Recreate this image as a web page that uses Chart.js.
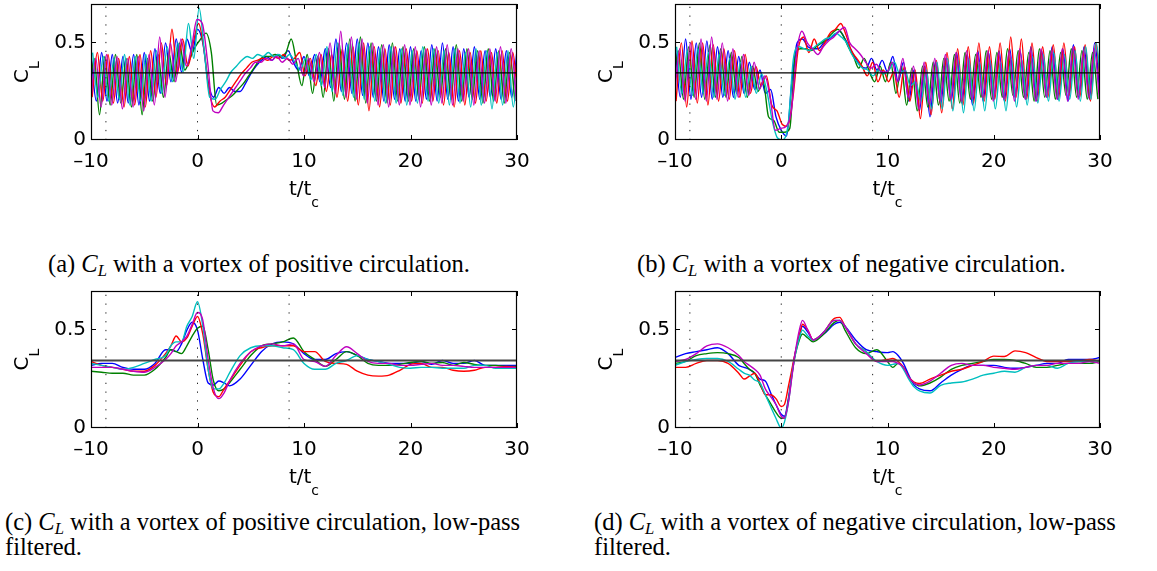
<!DOCTYPE html>
<html>
<head>
<meta charset="utf-8">
<script src="https://cdn.jsdelivr.net/npm/chart.js@4.4.1/dist/chart.umd.min.js"></script>
<style>
  body { margin: 0; background: #fff; }
  #fig { position: relative; width: 1157px; height: 571px; overflow: hidden; }
  canvas { position: absolute; }
  .cap { position: absolute; font-family: "Liberation Serif", serif; font-size: 19px; line-height: 25px; color: #000; white-space: nowrap; }
  .cap sub { font-size: 0.68em; vertical-align: -0.22em; line-height: 0; }
</style>
</head>
<body>
<div id="fig">
  <canvas id="pa" width="540" height="215" style="left:0px;top:0px"></canvas>
  <canvas id="pb" width="540" height="215" style="left:584px;top:0px"></canvas>
  <canvas id="pc" width="540" height="216" style="left:0px;top:287px"></canvas>
  <canvas id="pd" width="540" height="216" style="left:584px;top:287px"></canvas>
  <div class="cap" id="capA" style="left:48px;top:251px">(a) <i>C<sub>L</sub></i> with a vortex of positive circulation.</div>
  <div class="cap" style="left:637px;top:251px">(b) <i>C<sub>L</sub></i> with a vortex of negative circulation.</div>
  <div class="cap" style="left:5px;top:509px">(c) <i>C<sub>L</sub></i> with a vortex of positive circulation, low-pass<br>filtered.</div>
  <div class="cap" style="left:594px;top:509px">(d) <i>C<sub>L</sub></i> with a vortex of negative circulation, low-pass<br>filtered.</div>
</div>
<script>
// axes
const xMin = -10, xMax = 30, yMin = 0, yMax = 0.7;
const xTicks = [-10, 0, 10, 20, 30];
const yTicks = [0, 0.5];
const meanCL = 0.345;            // horizontal reference line
const markers = [-8.6, 0, 8.6];  // dotted vertical lines

// order of runs: blue, green, red, cyan, magenta
const colors = ['#0000ff', '#008000', '#ff0000', '#00bfbf', '#bf00bf'];
// time shift of each run's samples (raw signals only)
const lag = [0, -0.2, 0.1, 0.15, -0.05];
const noLag = [0, 0, 0, 0, 0];

// raw signals, sampled every half t/t_c
const tN = [-10,-9.5,-9,-8.5,-8,-7.5,-7,-6.5,-6,-5.5,
            -5,-4.5,-4,-3.5,-3,-2.5,-2,-1.5,-1,-0.5,
            0,0.5,1,1.5,2,2.5,3,3.5,4,4.5,
            5,5.5,6,6.5,7,7.5,8,8.5,9,9.5,
            10,10.5,11,11.5,12,12.5,13,13.5,14,14.5,
            15,15.5,16,16.5,17,17.5,18,18.5,19,19.5,
            20,20.5,21,21.5,22,22.5,23,23.5,24,24.5,
            25,25.5,26,26.5,27,27.5,28,28.5,29,29.5,
            30];

// (a) positive circulation
const aBlue = [0.44,0.20,0.45,0.20,0.44,0.19,0.43,0.19,0.44,0.18,
               0.45,0.20,0.47,0.24,0.50,0.30,0.52,0.35,0.52,0.45,
               0.57,0.50,0.30,0.22,0.27,0.24,0.27,0.25,0.25,0.29,
               0.34,0.38,0.41,0.43,0.41,0.44,0.42,0.46,0.40,0.36,
               0.43,0.33,0.44,0.30,0.47,0.27,0.52,0.25,0.50,0.24,
               0.52,0.23,0.50,0.22,0.48,0.20,0.49,0.21,0.47,0.20,
               0.48,0.20,0.46,0.21,0.49,0.20,0.50,0.21,0.48,0.20,
               0.47,0.22,0.48,0.21,0.46,0.22,0.47,0.21,0.46,0.22,
               0.46];
const aGreen = [0.20,0.42,0.13,0.43,0.18,0.44,0.19,0.42,0.17,0.44,
                0.13,0.42,0.20,0.44,0.22,0.45,0.30,0.50,0.36,0.42,
                0.48,0.52,0.55,0.45,0.18,0.19,0.21,0.23,0.26,0.29,
                0.33,0.37,0.41,0.43,0.43,0.44,0.43,0.45,0.52,0.40,
                0.28,0.44,0.24,0.43,0.22,0.47,0.20,0.50,0.21,0.52,
                0.20,0.53,0.19,0.50,0.20,0.49,0.19,0.50,0.20,0.48,
                0.20,0.47,0.21,0.48,0.20,0.47,0.22,0.47,0.21,0.49,
                0.20,0.47,0.21,0.46,0.19,0.47,0.20,0.46,0.19,0.45,
                0.20];
const aRed = [0.22,0.45,0.20,0.44,0.19,0.42,0.17,0.43,0.18,0.44,
              0.17,0.46,0.22,0.50,0.28,0.57,0.34,0.52,0.38,0.50,
              0.60,0.47,0.25,0.17,0.20,0.22,0.26,0.30,0.34,0.37,
              0.40,0.41,0.42,0.41,0.43,0.42,0.44,0.41,0.42,0.45,
              0.33,0.42,0.28,0.44,0.25,0.44,0.22,0.47,0.20,0.48,
              0.18,0.50,0.15,0.48,0.17,0.47,0.18,0.48,0.19,0.47,
              0.20,0.46,0.19,0.47,0.20,0.46,0.18,0.45,0.17,0.46,
              0.18,0.45,0.19,0.46,0.20,0.45,0.19,0.46,0.20,0.45,
              0.20];
const aCyan = [0.45,0.22,0.43,0.20,0.42,0.21,0.44,0.18,0.43,0.20,
               0.44,0.20,0.46,0.24,0.48,0.30,0.50,0.35,0.60,0.42,
               0.68,0.45,0.22,0.21,0.26,0.30,0.35,0.38,0.41,0.43,
               0.42,0.44,0.43,0.45,0.43,0.44,0.42,0.44,0.40,0.36,
               0.42,0.31,0.44,0.28,0.48,0.25,0.50,0.23,0.49,0.22,
               0.50,0.21,0.48,0.20,0.47,0.19,0.48,0.19,0.47,0.18,
               0.46,0.19,0.48,0.20,0.47,0.19,0.46,0.18,0.47,0.19,
               0.45,0.17,0.47,0.18,0.46,0.16,0.45,0.18,0.46,0.17,
               0.46];
const aMagenta = [0.18,0.42,0.17,0.44,0.18,0.43,0.16,0.42,0.17,0.43,
                  0.15,0.44,0.18,0.53,0.22,0.50,0.30,0.52,0.38,0.48,
                  0.62,0.60,0.40,0.15,0.14,0.18,0.22,0.26,0.30,0.34,
                  0.37,0.40,0.40,0.42,0.41,0.43,0.40,0.42,0.39,0.42,
                  0.33,0.42,0.30,0.45,0.27,0.50,0.24,0.56,0.22,0.53,
                  0.21,0.52,0.19,0.50,0.18,0.49,0.17,0.48,0.18,0.49,
                  0.18,0.48,0.17,0.47,0.18,0.48,0.19,0.49,0.18,0.47,
                  0.20,0.47,0.18,0.46,0.19,0.47,0.20,0.48,0.19,0.47,
                  0.20];

// (b) negative circulation
const bBlue = [0.50,0.22,0.52,0.21,0.50,0.22,0.51,0.21,0.48,0.22,
               0.46,0.22,0.43,0.24,0.40,0.26,0.36,0.24,0.26,0.12,
               0.05,0.02,0.30,0.50,0.52,0.48,0.47,0.47,0.50,0.52,
               0.54,0.56,0.52,0.47,0.42,0.38,0.37,0.42,0.36,0.41,
               0.35,0.43,0.30,0.40,0.20,0.36,0.15,0.38,0.12,0.40,
               0.18,0.42,0.20,0.45,0.19,0.44,0.18,0.46,0.20,0.45,
               0.21,0.46,0.20,0.47,0.22,0.45,0.21,0.48,0.20,0.46,
               0.22,0.48,0.21,0.47,0.20,0.49,0.22,0.48,0.21,0.50,
               0.22];
const bGreen = [0.25,0.46,0.21,0.48,0.22,0.50,0.21,0.49,0.22,0.47,
                0.22,0.45,0.24,0.43,0.22,0.38,0.25,0.30,0.12,0.10,
                0.04,0.04,0.06,0.42,0.47,0.47,0.46,0.48,0.50,0.52,
                0.55,0.57,0.54,0.48,0.43,0.37,0.42,0.35,0.30,0.38,
                0.30,0.40,0.24,0.38,0.18,0.37,0.15,0.38,0.17,0.40,
                0.18,0.42,0.20,0.44,0.19,0.45,0.21,0.44,0.22,0.46,
                0.21,0.45,0.22,0.47,0.23,0.46,0.22,0.45,0.20,0.47,
                0.22,0.46,0.21,0.45,0.23,0.47,0.22,0.46,0.21,0.45,
                0.21];
const bRed = [0.20,0.50,0.17,0.51,0.19,0.50,0.18,0.49,0.20,0.47,
              0.21,0.46,0.22,0.44,0.24,0.38,0.28,0.33,0.18,0.15,
              0.08,0.07,0.22,0.47,0.53,0.45,0.52,0.46,0.50,0.55,
              0.57,0.60,0.54,0.46,0.42,0.38,0.33,0.40,0.30,0.36,
              0.30,0.35,0.22,0.38,0.20,0.36,0.11,0.40,0.13,0.41,
              0.14,0.45,0.16,0.47,0.18,0.48,0.19,0.50,0.20,0.48,
              0.21,0.50,0.20,0.53,0.22,0.52,0.21,0.50,0.20,0.48,
              0.22,0.49,0.21,0.50,0.23,0.48,0.22,0.49,0.20,0.50,
              0.22];
const bCyan = [0.48,0.24,0.46,0.23,0.47,0.24,0.45,0.22,0.44,0.23,
               0.42,0.21,0.40,0.22,0.38,0.24,0.34,0.25,0.10,0.01,
               0.00,0.08,0.42,0.48,0.47,0.46,0.48,0.50,0.52,0.53,
               0.55,0.53,0.50,0.44,0.40,0.37,0.36,0.33,0.36,0.34,
               0.36,0.40,0.34,0.36,0.28,0.30,0.20,0.36,0.16,0.40,
               0.16,0.42,0.15,0.41,0.14,0.42,0.15,0.40,0.15,0.41,
               0.16,0.40,0.15,0.42,0.17,0.41,0.18,0.43,0.19,0.44,
               0.20,0.45,0.20,0.44,0.21,0.46,0.20,0.48,0.21,0.50,
               0.22];
const bMagenta = [0.22,0.47,0.20,0.50,0.21,0.52,0.20,0.53,0.21,0.50,
                  0.20,0.47,0.22,0.44,0.23,0.40,0.26,0.33,0.22,0.05,
                  0.06,0.07,0.15,0.45,0.56,0.50,0.47,0.44,0.48,0.51,
                  0.53,0.56,0.58,0.50,0.47,0.44,0.40,0.37,0.39,0.35,
                  0.35,0.40,0.30,0.42,0.22,0.38,0.16,0.40,0.18,0.42,
                  0.20,0.44,0.21,0.45,0.20,0.46,0.21,0.45,0.22,0.46,
                  0.20,0.45,0.21,0.46,0.20,0.47,0.21,0.46,0.20,0.47,
                  0.22,0.46,0.21,0.47,0.20,0.48,0.21,0.46,0.22,0.47,
                  0.21];

// (c) positive circulation, low-pass filtered
const tC = [-10,-9,-8,-7,-6,-5,-4,-3,
            -2.5,-2,-1.5,-1,-0.5,
            0,0.5,1,1.5,2,2.5,
            3,4,5,6,7,8,9,
            10,11,12,13,14,15,16,17,18,19,
            20,21,22,23,24,25,26,27,28,29,30];
const cBlue = [0.32,0.33,0.33,0.31,0.30,0.30,0.33,0.40,
               0.40,0.39,0.43,0.50,0.54,
               0.50,0.35,0.23,0.22,0.24,0.23,
               0.215,0.25,0.32,0.39,0.43,0.44,0.43,
               0.38,0.35,0.35,0.38,0.39,0.37,0.35,0.34,0.33,0.33,
               0.33,0.34,0.325,0.345,0.33,0.33,0.345,0.32,0.32,0.32,0.32];
const cGreen = [0.29,0.285,0.28,0.28,0.27,0.27,0.30,0.36,
                0.40,0.39,0.38,0.42,0.47,
                0.51,0.52,0.40,0.24,0.19,0.20,
                0.23,0.30,0.37,0.42,0.43,0.44,0.46,
                0.39,0.35,0.315,0.35,0.39,0.37,0.33,0.32,0.32,0.325,
                0.335,0.34,0.33,0.335,0.32,0.335,0.325,0.32,0.32,0.315,0.315];
const cRed = [0.34,0.32,0.31,0.30,0.29,0.29,0.32,0.38,
              0.42,0.47,0.44,0.46,0.52,
              0.57,0.48,0.30,0.18,0.16,0.20,
              0.24,0.32,0.39,0.41,0.42,0.42,0.42,
              0.39,0.39,0.34,0.33,0.325,0.29,0.27,0.265,0.27,0.295,
              0.325,0.33,0.31,0.31,0.295,0.29,0.295,0.31,0.31,0.315,0.31];
const cCyan = [0.33,0.32,0.31,0.30,0.31,0.33,0.35,0.37,
               0.42,0.44,0.44,0.52,0.57,
               0.645,0.52,0.30,0.20,0.20,0.23,
               0.28,0.37,0.41,0.42,0.42,0.41,0.40,
               0.33,0.30,0.30,0.33,0.345,0.37,0.35,0.34,0.325,0.31,
               0.305,0.31,0.31,0.305,0.305,0.305,0.32,0.32,0.305,0.305,0.305];
const cMagenta = [0.31,0.31,0.31,0.30,0.29,0.285,0.31,0.35,
                  0.38,0.42,0.44,0.47,0.53,
                  0.59,0.55,0.35,0.20,0.15,0.18,
                  0.24,0.33,0.39,0.42,0.43,0.42,0.43,
                  0.35,0.34,0.315,0.37,0.415,0.38,0.34,0.33,0.33,0.32,
                  0.32,0.325,0.33,0.32,0.32,0.315,0.31,0.31,0.31,0.31,0.31];

// (d) negative circulation, low-pass filtered
const tD = [-10,-9,-8,-7,-6,-5,-4,
            -3.5,-3,-2.5,-2,-1.5,-1,-0.5,
            0,0.3,0.7,1,1.3,1.7,2,2.5,3,
            4,5,5.5,6,7,8,9,10,
            10.5,11,11.5,12,12.5,13,
            14,15,16,17,18,19,20,21,22,23,24,25,26,27,28,29,30];
const dBlue = [0.36,0.38,0.39,0.40,0.41,0.38,0.32,
               0.31,0.30,0.28,0.25,0.24,0.18,0.12,
               0.07,0.06,0.16,0.28,0.38,0.47,0.52,0.49,0.45,
               0.48,0.53,0.54,0.52,0.45,0.40,0.39,0.385,
               0.39,0.37,0.33,0.27,0.22,0.20,
               0.19,0.23,0.27,0.30,0.32,0.32,0.32,0.31,0.305,0.31,0.32,0.33,0.33,0.35,0.35,0.35,0.36];
const dGreen = [0.33,0.34,0.37,0.38,0.385,0.38,0.36,
                0.33,0.30,0.28,0.22,0.17,0.125,0.08,
                0.05,0.05,0.15,0.27,0.37,0.45,0.48,0.46,0.44,
                0.48,0.54,0.55,0.50,0.41,0.38,0.40,0.34,
                0.31,0.33,0.31,0.26,0.23,0.215,
                0.23,0.26,0.30,0.32,0.33,0.34,0.35,0.35,0.345,0.33,0.31,0.31,0.32,0.33,0.33,0.33,0.34];
const dRed = [0.31,0.31,0.33,0.345,0.345,0.33,0.28,
              0.25,0.265,0.28,0.23,0.17,0.17,0.15,
              0.11,0.12,0.22,0.30,0.38,0.47,0.53,0.50,0.45,
              0.49,0.56,0.565,0.52,0.43,0.39,0.34,0.35,
              0.355,0.34,0.31,0.26,0.235,0.227,
              0.25,0.27,0.29,0.30,0.32,0.34,0.367,0.365,0.394,0.385,0.36,0.34,0.34,0.34,0.34,0.35,0.34];
const dCyan = [0.32,0.34,0.35,0.355,0.355,0.34,0.30,
               0.28,0.27,0.245,0.23,0.17,0.11,0.05,
               0.00,0.03,0.14,0.27,0.37,0.46,0.50,0.47,0.45,
               0.49,0.55,0.55,0.52,0.43,0.39,0.34,0.32,
               0.325,0.33,0.30,0.25,0.21,0.19,
               0.179,0.218,0.23,0.235,0.25,0.27,0.28,0.29,0.285,0.31,0.32,0.32,0.305,0.33,0.34,0.34,0.345];
const dMagenta = [0.34,0.35,0.38,0.42,0.43,0.41,0.37,
                  0.34,0.32,0.30,0.27,0.20,0.16,0.12,
                  0.06,0.05,0.14,0.26,0.38,0.50,0.55,0.50,0.45,
                  0.49,0.55,0.55,0.52,0.43,0.38,0.34,0.34,
                  0.34,0.33,0.31,0.26,0.23,0.22,
                  0.24,0.28,0.32,0.33,0.32,0.32,0.31,0.305,0.30,0.31,0.32,0.32,0.33,0.33,0.33,0.34,0.33];

const FONT = '"DejaVu Sans", sans-serif';

// box, inward ticks and the axis labels with subscripts
const frame = {
  id: 'frame',
  afterDraw(chart) {
    const {ctx, chartArea: a, scales: {x, y}} = chart;
    ctx.save();
    ctx.strokeStyle = '#000';
    ctx.lineWidth = 1.2;
    ctx.strokeRect(Math.round(a.left) + 0.5, Math.round(a.top) + 0.5,
                   Math.round(a.right - a.left) - 1, Math.round(a.bottom - a.top) - 1);
    ctx.lineWidth = 1;
    ctx.beginPath();
    x.ticks.forEach(tk => {
      const px = Math.round(x.getPixelForValue(tk.value)) + 0.5;
      ctx.moveTo(px, a.bottom); ctx.lineTo(px, a.bottom - 5);
      ctx.moveTo(px, a.top); ctx.lineTo(px, a.top + 5);
    });
    y.ticks.forEach(tk => {
      const py = Math.round(y.getPixelForValue(tk.value)) - 0.5;
      ctx.moveTo(a.left, py); ctx.lineTo(a.left + 5, py);
      ctx.moveTo(a.right, py); ctx.lineTo(a.right - 5, py);
    });
    ctx.stroke();

    ctx.fillStyle = '#000';
    ctx.textAlign = 'left';
    ctx.textBaseline = 'alphabetic';
    const big = '20px ' + FONT, small = '14px ' + FONT;
    // t/t_c
    ctx.font = big; const w1 = ctx.measureText('t/t').width;
    ctx.font = small; const w2 = ctx.measureText('c').width;
    const x0 = (a.left + a.right) / 2 - (w1 + w2) / 2;
    ctx.font = big; ctx.fillText('t/t', x0, a.bottom + 55);
    ctx.font = small; ctx.fillText('c', x0 + w1, a.bottom + 67);
    // C_L
    ctx.translate(a.left - 63, (a.top + a.bottom) / 2);
    ctx.rotate(-Math.PI / 2);
    ctx.font = big; const w3 = ctx.measureText('C').width;
    ctx.font = small; const w4 = ctx.measureText('L').width;
    ctx.font = big; ctx.fillText('C', -(w3 + w4) / 2, 0);
    ctx.font = small; ctx.fillText('L', -(w3 + w4) / 2 + w3, 11);
    ctx.restore();
  }
};

function panel(id, t, runs, shift, ref, padRight) {
  const datasets = runs.map((vals, k) => ({
    data: vals.map((v, i) => ({x: t[i] + shift[k], y: v})),
    borderColor: colors[k],
    borderWidth: 1.4,
    pointRadius: 0,
    cubicInterpolationMode: 'monotone',
    order: 10 - k
  }));
  datasets.push({
    data: [{x: xMin, y: meanCL}, {x: xMax, y: meanCL}],
    borderColor: ref.color, borderWidth: ref.width, pointRadius: 0, order: 1
  });
  markers.forEach(m => datasets.push({
    data: [{x: m, y: yMin}, {x: m, y: yMax}],
    borderColor: '#222', borderWidth: 1, borderDash: [1.3, 7.5], pointRadius: 0, order: 0
  }));

  return new Chart(document.getElementById(id), {
    type: 'line',
    data: {datasets},
    options: {
      responsive: false,
      animation: false,
      events: [],
      layout: {padding: {left: 0, top: 4, right: padRight, bottom: 0}},
      plugins: {legend: {display: false}, tooltip: {enabled: false}},
      scales: {
        x: {
          type: 'linear', min: xMin, max: xMax,
          grid: {display: false, drawTicks: false},
          border: {display: false},
          afterBuildTicks: s => { s.ticks = xTicks.map(v => ({value: v})); },
          afterFit: s => { s.height = 75; s.paddingLeft = 0; s.paddingRight = 0; },
          ticks: {
            padding: 10, color: '#000', maxRotation: 0, autoSkip: false,
            font: {family: FONT, size: 20},
            callback: v => v < 0 ? '\u2013' + (-v) : String(v)
          }
        },
        y: {
          type: 'linear', min: yMin, max: yMax,
          grid: {display: false, drawTicks: false},
          border: {display: false},
          afterBuildTicks: s => { s.ticks = yTicks.map(v => ({value: v})); },
          afterFit: s => { s.width = 91; s.paddingTop = 0; s.paddingBottom = 0; },
          ticks: {
            padding: 5, color: '#000',
            font: {family: FONT, size: 20},
            callback: v => v === 0 ? '0' : v.toFixed(1)
          }
        }
      }
    },
    plugins: [frame]
  });
}

const rawRef = {color: '#000', width: 1.2};
const lpRef = {color: '#444', width: 2};

panel('pa', tN, [aBlue, aGreen, aRed, aCyan, aMagenta], lag, rawRef, 23);
panel('pb', tN, [bBlue, bGreen, bRed, bCyan, bMagenta], lag, rawRef, 24);
panel('pc', tC, [cBlue, cGreen, cRed, cCyan, cMagenta], noLag, lpRef, 23);
panel('pd', tD, [dBlue, dGreen, dRed, dCyan, dMagenta], noLag, lpRef, 24);

// scale the caption font so the first caption spans its reference width
const capA = document.getElementById('capA');
const capSize = 19 * 422 / capA.getBoundingClientRect().width;
document.querySelectorAll('.cap').forEach(c => { c.style.fontSize = capSize + 'px'; });
</script>
</body>
</html>
